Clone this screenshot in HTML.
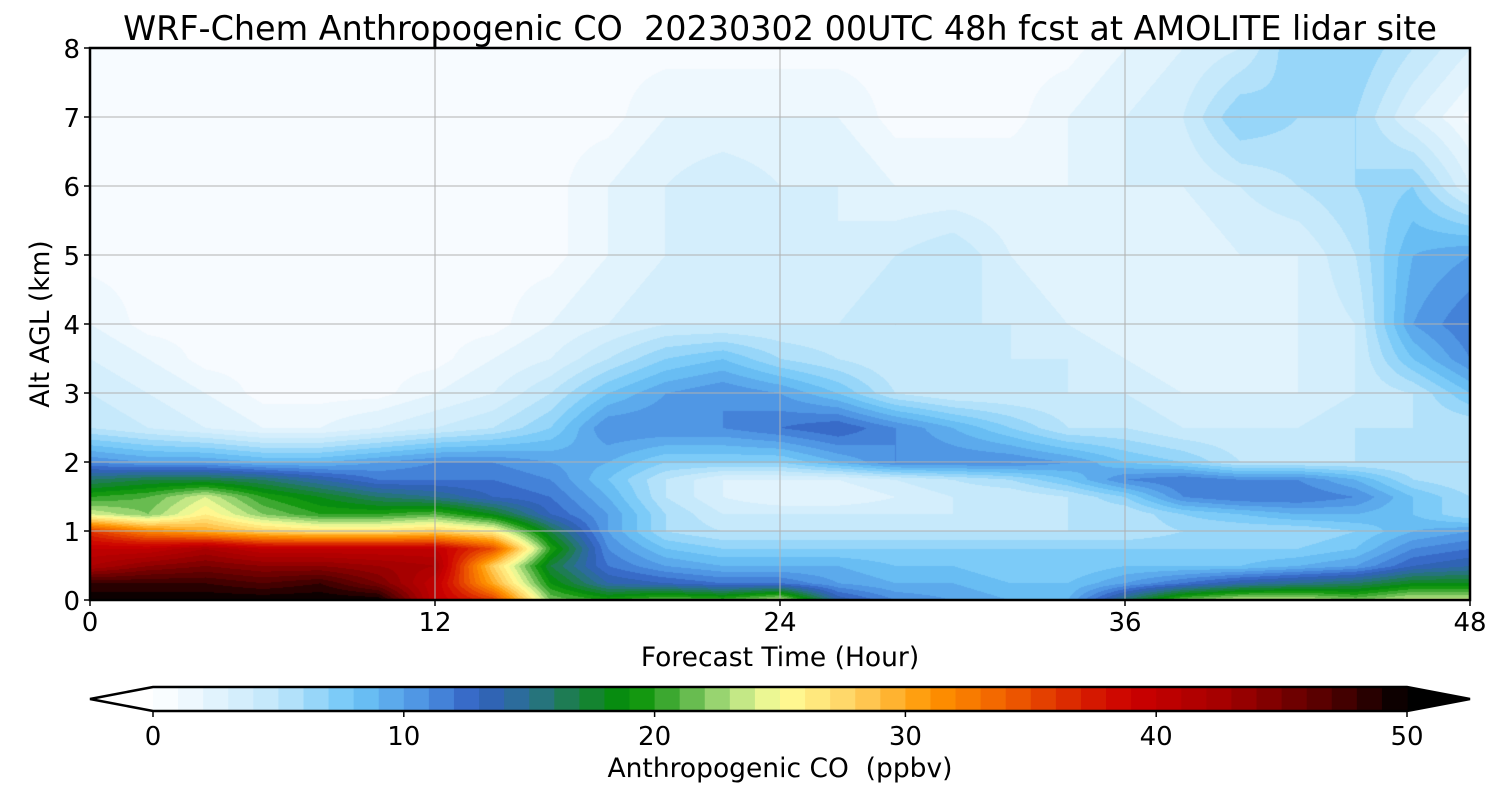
<!DOCTYPE html>
<html><head><meta charset="utf-8"><style>
body{margin:0;background:#fff;width:1500px;height:800px;overflow:hidden;font-family:"Liberation Sans","DejaVu Sans",sans-serif}
svg text{font-family:"DejaVu Sans","Liberation Sans",sans-serif;white-space:pre}
#c{position:absolute;left:90px;top:48px}
#s{position:absolute;left:0;top:0}
</style></head><body>
<canvas id="c" width="1380" height="552"></canvas>
<svg id="s" width="1500" height="800"></svg>
<script>
const times=[0,2,4,6,8,10,12,14,16,18,20,22,24,26,28,30,32,34,36,38,40,42,44,46,48];
const alts=[0,0.25,0.5,0.75,1,1.25,1.5,1.75,2,2.5,3,3.5,4,5,6,7,8];
const coValues=[
[50,50,50,50,50,50,40,36,22,20,22,21,24,14,11,10,9,9,16,22,24,24,22,24,24],
[48,48,48,47,48,45,40,30,19,14,13,12,12,10,9,9,8,8,10,12,14,15,16,18,18],
[42,44,45,44,44,43,42,28,17,12,10,9,9,9,8,8,7,7,8,8,8,9,10,13,14],
[40,40,42,40,40,40,40,35,20,11,8,7,7,7,7,7,7,7,7,7,7,7,8,11,12],
[36,32,30,28,27,27,28,26,17,10,6,5,5,5,5,5,5,5,5,6,6,6,7,9,10],
[24,22,26,22,20,20,21,18,13,10,6,4,4,4,4,4,4,5,5,7,8,9,9,8,6],
[20,21,24,20,18,16,15,13,12,9,5,3,2,2,3,4,4,5,7,11,12,12,11,8,6],
[16,17,17,16,14,12,12,12,11,8,5,3,3,3,4,5,6,8,11,12,11,11,9,6,5],
[11,10,10,9,9,10,11,11,10,9,7,7,7,9,11,11,11,10,8,7,5,5,5,5,5],
[5,4,3,2,2,3,4,5,7,11,11,11,12,13,11,9,7,5,5,4,4,4,5,5,5],
[4,3,2,1,1,1,2,3,5,8,10,11,10,8,5,4,4,4,4,3,3,3,4,5,8],
[3,2,1,1,1,1,1,2,3,5,7,8,6,5,4,4,4,4,3,2,2,3,4,8,11],
[2,1,1,1,1,1,1,1,2,3,4,4,4,4,5,4,4,3,2,2,2,3,4,10,12],
[1,1,1,1,1,1,1,1,1,2,3,3,3,3,4,5,3,2,2,2,3,3,5,9,10],
[1,1,1,1,1,1,1,1,1,2,3,4,3,3,2,2,2,2,3,3,4,5,6,7,3],
[1,1,1,1,1,1,1,1,1,1,2,2,2,2,1,1,1,2,3,4,7,6,6,3,1],
[1,1,1,1,1,1,1,1,1,1,1,1,1,1,1,1,1,1,2,3,4,7,7,5,3]];
const xTicks=[0,12,24,36,48];
const yTicks=[0,1,2,3,4,5,6,7,8];
const cbTicks=[0,10,20,30,40,50];
const stops=[[0,'#ffffff'],[2,'#e8f6fd'],[5,'#bfe6fb'],[8,'#6ec6f7'],[11,'#4a8de0'],[13,'#3260c0'],[15,'#2a7090'],[17,'#1a8040'],[19,'#009000'],[21,'#50b040'],[23,'#b0e080'],[25,'#ffff99'],[28,'#ffd060'],[31,'#ff9500'],[34,'#f06000'],[37,'#d82000'],[39,'#cc0000'],[43,'#a00000'],[47,'#500000'],[50,'#000000']];
function hex(h){return [1,3,5].map(i=>parseInt(h.substr(i,2),16));}
function cmap(v){v=Math.max(0,Math.min(50,v));for(let i=1;i<stops.length;i++){if(v<=stops[i][0]){const a=hex(stops[i-1][1]),b=hex(stops[i][1]);const f=(v-stops[i-1][0])/(stops[i][0]-stops[i-1][0]);return a.map((x,k)=>Math.round(x+(b[k]-x)*f));}}return [0,0,0];}
const PX=90,PY=48,PW=1380,PH=552;
const xs=t=>PX+t/48*PW, ys=a=>PY+PH-a/8*PH;
const lut=[];for(let l=0;l<=50;l++)lut.push(cmap(l+0.5>50?50:l+0.5));
const ctx=document.getElementById('c').getContext('2d');
const img=ctx.createImageData(PW,PH);
function interpIdx(arr,v){for(let i=0;i<arr.length-1;i++){if(v<=arr[i+1])return [i,(v-arr[i])/(arr[i+1]-arr[i])];}return [arr.length-2,1];}
for(let py=0;py<PH;py++){const a=(PH-py)/PH*8;const [ai,af]=interpIdx(alts,a);
 for(let px=0;px<PW;px++){const t=px/PW*48;const [ti,tf]=interpIdx(times,t);
  const v=(coValues[ai][ti]*(1-tf)+coValues[ai][ti+1]*tf)*(1-af)+(coValues[ai+1][ti]*(1-tf)+coValues[ai+1][ti+1]*tf)*af;
  const c=v<1.3?[247,251,255]:lut[Math.min(50,Math.floor(v))];const o=(py*PW+px)*4;img.data[o]=c[0];img.data[o+1]=c[1];img.data[o+2]=c[2];img.data[o+3]=255;}}
ctx.putImageData(img,0,0);
const s=document.getElementById('s');const NS='http://www.w3.org/2000/svg';
function el(tag,attrs,txt){const e=document.createElementNS(NS,tag);for(const k in attrs)e.setAttribute(k,attrs[k]);if(txt!==undefined)e.textContent=txt;s.appendChild(e);return e;}
let e;
xTicks.forEach(t=>{if(t>0&&t<48){e=el('line',{x1:xs(t),x2:xs(t),y1:PY,y2:PY+PH,stroke:'#b0b0b0','stroke-width':1});}
 el('line',{x1:xs(t),x2:xs(t),y1:PY+PH,y2:PY+PH+6,stroke:'#000','stroke-width':1.5});
 e=el('text',{x:xs(t),y:631,'font-size':26,'text-anchor':'middle'},t);});
yTicks.forEach(a=>{if(a>0&&a<8){e=el('line',{x1:PX,x2:PX+PW,y1:ys(a),y2:ys(a),stroke:'#b0b0b0','stroke-width':1});}
 el('line',{x1:PX-6,x2:PX,y1:ys(a),y2:ys(a),stroke:'#000','stroke-width':1.5});
 e=el('text',{x:80,y:ys(a)+10,'font-size':26,'text-anchor':'end'},a);});
e=el('rect',{x:PX,y:PY,width:PW,height:PH,fill:'none',stroke:'#000','stroke-width':2.5});
e=el('text',{x:780,y:40,'font-size':33.4,'text-anchor':'middle'},'WRF-Chem Anthropogenic CO  20230302 00UTC 48h fcst at AMOLITE lidar site');
e=el('text',{x:780,y:666,'font-size':26.5,'text-anchor':'middle'},'Forecast Time (Hour)');
e=el('text',{x:49,y:324,'font-size':26.5,'text-anchor':'middle',transform:'rotate(-90 49 324)'},'Alt AGL (km)');
const CX0=153,CX1=1407,CY=687,CH=24;const cbx=v=>CX0+v/50*(CX1-CX0);
e=el('polygon',{points:`${CX0},${CY} 90,${CY+CH/2} ${CX0},${CY+CH}`,fill:'#fff'});
e=el('polygon',{points:`${CX1},${CY} 1470,${CY+CH/2} ${CX1},${CY+CH}`,fill:'#000'});
for(let l=0;l<50;l++){const c=lut[l];e=el('rect',{x:cbx(l),y:CY,width:cbx(l+1)-cbx(l)+0.6,height:CH,fill:`rgb(${c})`});}
e=el('polygon',{points:`${CX0},${CY} ${CX1},${CY} 1470,${CY+CH/2} ${CX1},${CY+CH} ${CX0},${CY+CH} 90,${CY+CH/2}`,fill:'none',stroke:'#000','stroke-width':2.5});
cbTicks.forEach(v=>{el('line',{x1:cbx(v),x2:cbx(v),y1:CY+CH,y2:CY+CH+6,stroke:'#000','stroke-width':1.5});
 e=el('text',{x:cbx(v),y:745,'font-size':26,'text-anchor':'middle'},v);});
e=el('text',{x:780,y:777,'font-size':26.5,'text-anchor':'middle'},'Anthropogenic CO  (ppbv)');
</script>
</body></html>
